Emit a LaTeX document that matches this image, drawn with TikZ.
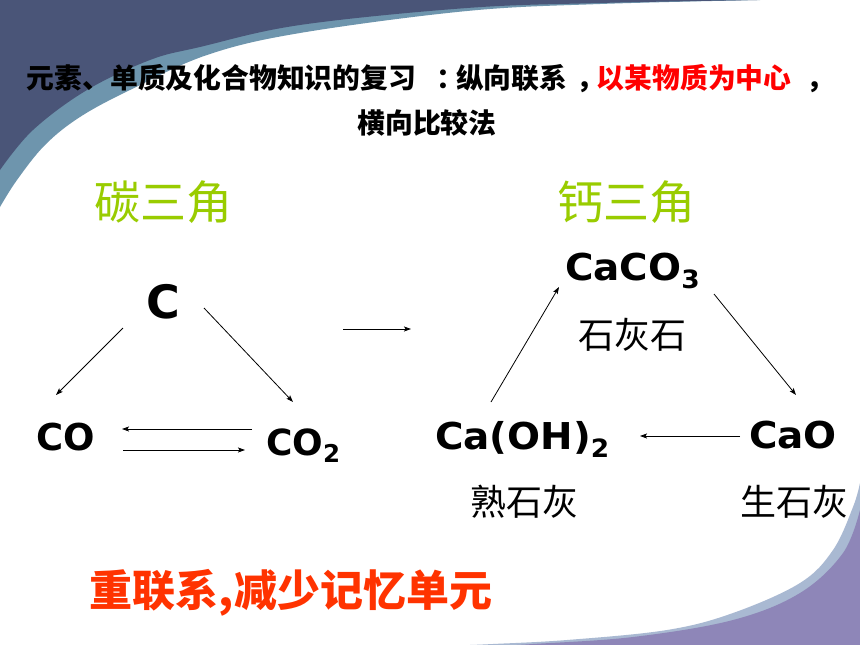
\documentclass[tikz,border=0pt]{standalone}
\usepackage{fontspec}
\usetikzlibrary{arrows.meta}
\setmainfont{DejaVu Sans}
\newfontfamily\cjk{Noto Sans CJK SC}
\newfontfamily\verdw[FakeStretch=1.05]{DejaVu Sans}
\definecolor{slatebg}{HTML}{4A5578}
\definecolor{steelbg}{HTML}{6E95AD}
\definecolor{lavbg}{HTML}{A9B9D2}
\definecolor{purplebg}{HTML}{8E86B8}
\definecolor{greenhd}{HTML}{99CC00}
\definecolor{redtitle}{HTML}{FF0000}
\definecolor{redbottom}{HTML}{FF3300}
\newcommand\subsc[1]{\raisebox{-0.22em}{\scalebox{0.68}{#1}}}
\begin{document}
\begin{tikzpicture}[x=1pt,y=-1pt,
  every node/.style={inner sep=0pt,outer sep=0pt},
  titletxt/.style={font=\cjk\bfseries\fontsize{27.8}{30}\selectfont,anchor=base west},
  headtxt/.style={font=\cjk\fontsize{46}{50}\selectfont,text=greenhd,anchor=center},
  chemw/.style={font=\verdw\bfseries\fontsize{37}{40}\selectfont,anchor=base west},
  cnlabel/.style={font=\cjk\fontsize{36}{40}\selectfont,anchor=center},
  arr/.style={-{Stealth[length=7pt,width=5pt,inset=1.5pt]},line width=0.8pt,black}
]
\useasboundingbox (0,0) rectangle (860,645);
\fill[white] (0,0) rectangle (860,645);
% top-left decoration
\fill[steelbg] (0,0) -- plot[smooth,tension=0.6] coordinates {(760,0) (600,4) (467,11) (300,33) (207,55) (130,90) (80,117) (45,145) (17,180) (0,207)} -- cycle;
\fill[slatebg] (0,0) -- plot[smooth,tension=0.6] coordinates {(757,0) (600,3) (467,8) (300,25) (200,47) (150,60) (87,90) (33,130) (0,170)} -- cycle;
% bottom-right decoration
\fill[lavbg] plot[smooth,tension=0.6] coordinates {(860,483) (853,507) (833,550) (800,583) (733,613) (667,630) (567,640) (493,644) (470,645)} -- (860,645) -- cycle;
\fill[purplebg] plot[smooth,tension=0.6] coordinates {(860,510) (843,553) (800,593) (733,620) (633,637) (533,644) (515,645)} -- (860,645) -- cycle;

% title
\node[titletxt] (t1) at (27,88) {元素、单质及化合物知识的复习\hspace{34.3pt}\makebox[0pt]{：}\hspace{5.5pt}纵向联系\hspace{9.8pt}\rlap{，}\hspace{20pt}\textcolor{redtitle}{以某物质为中心}\hspace{15.4pt}，};
\node[titletxt,anchor=base] (t2) at (427,133) {横向比较法};

% headings
\node[headtxt] (h1) at (163,202) {碳三角};
\node[headtxt] (h2) at (626,202) {钙三角};

% carbon triangle
\node[font=\bfseries\fontsize{46}{50}\selectfont,anchor=base] (C) at (163,318) {C};
\node[font=\bfseries\fontsize{37}{40}\selectfont,anchor=base west] (CO) at (36,450) {CO};
\node[font=\bfseries\fontsize{36}{40}\selectfont,anchor=base west] (CO2) at (266,455) {CO\subsc{2}};

% calcium triangle
\node[chemw] (CaCO3) at (565,280) {CaCO\subsc{3}};
\node[chemw] (CaOH2) at (435,449) {Ca(OH)\subsc{2}};
\node[chemw] (CaO) at (749,448) {CaO};
\node[cnlabel] (l1) at (632,335) {石灰石};
\node[cnlabel] (l2) at (524,502) {熟石灰};
\node[cnlabel] (l3) at (794,502) {生石灰};

% bottom slogan
\node[font=\cjk\bfseries\fontsize{43}{46}\selectfont,text=redbottom,anchor=center] (slogan) at (291,593) {重联系,减少记忆单元};

% arrow end points
\coordinate (a1s) at (123,328); \coordinate (a1e) at (56,395);
\coordinate (a2s) at (204,308); \coordinate (a2e) at (293,402);
\coordinate (a3s) at (252,429); \coordinate (a3e) at (122,429);
\coordinate (a4s) at (123,450); \coordinate (a4e) at (245,450);
\coordinate (a5s) at (343,329); \coordinate (a5e) at (411,329);
\coordinate (a6s) at (491,402); \coordinate (a6e) at (559,287);
\coordinate (a7s) at (714,294); \coordinate (a7e) at (796,395);
\coordinate (a8s) at (740,436); \coordinate (a8e) at (640,436);
\draw[arr] (a1s) -- (a1e);
\draw[arr] (a2s) -- (a2e);
\draw[arr] (a3s) -- (a3e);
\draw[arr] (a4s) -- (a4e);
\draw[arr] (a5s) -- (a5e);
\draw[arr] (a6s) -- (a6e);
\draw[arr] (a7s) -- (a7e);
\draw[arr] (a8s) -- (a8e);
\end{tikzpicture}
\end{document}
